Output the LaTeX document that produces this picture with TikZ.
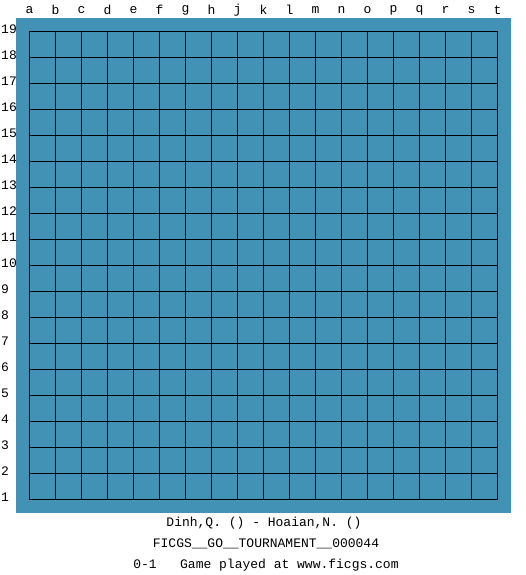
\documentclass[tikz,border=0pt]{standalone}
\usepackage{fontspec}
\setmonofont{Liberation Mono}
\definecolor{boardblue}{RGB}{66,146,182}
\begin{document}
\begin{tikzpicture}
[x=1pt,y=-1pt,%
  boarddecorate/.style={fill=boardblue,draw=none},%
  linedecorate/.style={draw=black,line width=1pt},%
  labeldecorate/.style={font=\fontsize{13}{15}\selectfont\ttfamily,inner sep=0pt}]
\useasboundingbox[fill=white] (0,0) rectangle (525,575);
% board
\fill[boarddecorate] (16,18) rectangle (511,512.5);
\foreach \i in {0,...,18}
  \draw[linedecorate] (29.5+26*\i,31.5) -- (29.5+26*\i,499.5);
\foreach \i in {0,...,18}
  \draw[linedecorate] (29.5,31.5+26*\i) -- (497.5,31.5+26*\i);
% column and row labels
\foreach \c [count=\i from 0] in {a,b,c,d,e,f,g,h,j,k,l,m,n,o,p,q,r,s,t}
  \node (col\c) at (29.5+26*\i,10) [labeldecorate] {\c};
\foreach \r [count=\i from 0] in {19,18,...,1}
  \node (row\r) at (1,29.5+26*\i) [labeldecorate,anchor=west] {\r};
% game info
\node (players) at (264,523) [labeldecorate] {Dinh,Q. () - Hoaian,N. ()};
\node (event) at (266,543.5) [labeldecorate] {FICGS\_\_GO\_\_TOURNAMENT\_\_000044};
\node (result) at (266,565) [labeldecorate] {0-1\ \ \ Game played at www.ficgs.com};
\end{tikzpicture}
\end{document}
